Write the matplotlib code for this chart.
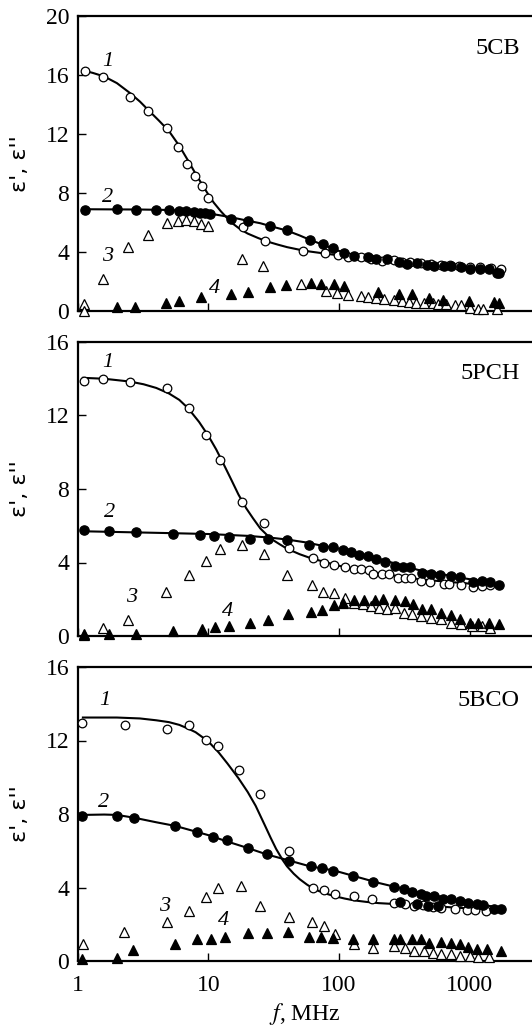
import matplotlib.pyplot as plt
import numpy as np

plt.rcParams['font.family'] = ['Liberation Serif', 'DejaVu Serif']
plt.rcParams['mathtext.fontset'] = 'stix'

# ---------- 5CB ----------
cb_f1 = [1.15, 1.58, 2.5, 3.45, 4.82, 5.91, 6.9, 7.87, 8.98, 10, 18.4, 27.2, 53.3, 78.7, 98,
         116, 146, 175, 214, 261, 300, 350, 420, 500, 600, 700, 820, 1000, 1200, 1450, 1740]
cb_e1 = [16.26, 15.87, 14.51, 13.54, 12.4, 11.11, 9.98, 9.18, 8.46, 7.66, 5.67, 4.72, 4.04, 3.92, 3.81,
         3.67, 3.63, 3.5, 3.4, 3.45, 3.3, 3.3, 3.25, 3.2, 3.15, 3.1, 3.05, 3.0, 2.95, 2.9, 2.88]
cb_f2 = [1.15, 1.99, 2.81, 3.96, 4.97, 5.94, 6.7, 7.73, 8.61, 9.42, 10.3, 14.8, 20.2, 29.7, 40.3,
         60.1, 75, 90.3, 109, 129, 166, 191, 231, 285, 330, 395, 473, 533, 638, 719, 861, 998,
         1196, 1390, 1614, 1680]
cb_e2 = [6.85, 6.92, 6.87, 6.87, 6.85, 6.76, 6.76, 6.69, 6.64, 6.64, 6.58, 6.24, 6.12, 5.78, 5.49,
         4.81, 4.54, 4.26, 3.92, 3.74, 3.67, 3.51, 3.51, 3.29, 3.22, 3.24, 3.13, 3.06, 3.02, 3.02, 2.95, 2.83,
         2.83, 2.83, 2.61, 2.61]
cb_f3 = [1.13, 1.13, 1.57, 2.45, 3.45, 4.82, 5.91, 6.7, 7.73, 8.87, 10, 18.2, 26, 50.9, 79.6, 97,
         116, 147, 166, 193, 221, 261, 302, 340, 384, 446, 518, 567, 658, 764, 861, 998, 1161, 1270, 1614]
cb_e3 = [0.5, 0.0, 2.2, 4.35, 5.15, 5.94, 6.08, 6.19, 6.08, 5.9, 5.74, 3.51, 3.02, 1.81, 1.36, 1.2,
         1.09, 1.02, 0.95, 0.91, 0.84, 0.75, 0.68, 0.61, 0.57, 0.57, 0.57, 0.5, 0.45, 0.39, 0.39, 0.23, 0.11, 0.11, 0.11]
cb_f4 = [2.01, 2.77, 4.74, 6.02, 8.87, 14.9, 20.2, 29.7, 39.6, 60.9, 73.3, 91.4, 109, 197, 288, 362,
         488, 620, 988, 1521, 1663]
cb_e4 = [0.27, 0.27, 0.57, 0.68, 0.95, 1.13, 1.32, 1.66, 1.77, 1.88, 1.86, 1.81, 1.7, 1.29, 1.13, 1.13,
         0.91, 0.73, 0.68, 0.61, 0.57]
cb_fit1_f = [1.1, 1.3, 1.6, 2.0, 2.5, 3.0, 3.5, 4.2, 5, 6, 7, 8, 9, 10, 11, 12.5, 15, 17.5, 20, 24, 28,
             34, 40, 50, 60, 80, 100, 150, 200, 300, 400, 600, 1000, 1700]
cb_fit1_e = [16.3, 16.15, 15.9, 15.45, 14.8, 14.2, 13.6, 12.9, 12.2, 11.2, 10.2, 9.3, 8.55, 7.9, 7.35, 6.75,
             6.0, 5.55, 5.25, 4.95, 4.72, 4.5, 4.33, 4.15, 4.03, 3.88, 3.77, 3.58, 3.45, 3.3, 3.2, 3.08, 2.95, 2.85]
cb_fit2_f = [1.1, 3, 5, 7, 10, 13, 16, 20, 25, 30, 40, 50, 60, 75, 100, 130, 170, 230, 300, 450, 600,
             1000, 1700]
cb_fit2_e = [6.9, 6.88, 6.85, 6.78, 6.62, 6.45, 6.3, 6.12, 5.95, 5.75, 5.45, 5.12, 4.82, 4.5, 4.07, 3.8,
             3.6, 3.43, 3.3, 3.14, 3.05, 2.9, 2.7]

# ---------- 5PCH ----------
pch_f1 = [1.13, 1.58, 2.5, 4.82, 7.07, 9.59, 12.3, 18, 26.8, 41.5, 62.7, 76.4, 91.4, 111, 129, 147,
          168, 182, 214, 242, 280, 317, 355, 420, 497, 638, 698, 861, 1062, 1233, 1432]
pch_e1 = [13.9, 14.0, 13.85, 13.49, 12.4, 10.95, 9.6, 7.27, 6.15, 4.78, 4.22, 3.96, 3.85, 3.73, 3.67, 3.64,
          3.58, 3.36, 3.36, 3.4, 3.18, 3.13, 3.13, 3.0, 2.95, 2.85, 2.82, 2.78, 2.69, 2.73, 2.76]
pch_f2 = [1.13, 1.73, 2.81, 5.34, 8.61, 11.1, 14.3, 20.9, 28.5, 40.1, 59.1, 75, 90.3, 107, 123, 143,
          166, 193, 224, 268, 308, 347, 433, 502, 590, 719, 836, 1062, 1233, 1432, 1683]
pch_e2 = [5.76, 5.69, 5.67, 5.55, 5.49, 5.42, 5.4, 5.27, 5.27, 5.24, 4.95, 4.85, 4.82, 4.67, 4.55, 4.42,
          4.36, 4.18, 4.05, 3.82, 3.73, 3.73, 3.45, 3.4, 3.33, 3.27, 3.22, 2.96, 3.0, 2.95, 2.78]
pch_f3 = [1.13, 1.58, 2.45, 4.74, 7.07, 9.59, 12.3, 18, 26.8, 40.1, 62, 75, 91.4, 110, 131, 152, 175,
          202, 231, 268, 312, 362, 420, 502, 601, 719, 861, 1030, 1233, 1432]
pch_e3 = [0.05, 0.45, 0.85, 2.4, 3.33, 4.09, 4.73, 4.95, 4.45, 3.33, 2.76, 2.4, 2.33, 2.09, 1.82, 1.73, 1.64,
          1.55, 1.45, 1.55, 1.24, 1.18, 1.09, 1.0, 0.91, 0.73, 0.64, 0.55, 0.55, 0.45]
pch_f4 = [1.13, 1.73, 2.81, 5.34, 8.98, 11.3, 14.3, 20.8, 28.5, 40.7, 60.9, 73.9, 91.4, 107, 131, 156,
          187, 218, 268, 321, 369, 433, 502, 601, 719, 836, 998, 1161, 1390, 1663]
pch_e4 = [0.1, 0.1, 0.1, 0.25, 0.4, 0.5, 0.55, 0.7, 0.85, 1.18, 1.33, 1.4, 1.67, 1.82, 1.96, 1.96,
          1.96, 2.0, 1.96, 1.91, 1.73, 1.49, 1.45, 1.27, 1.13, 0.91, 0.73, 0.73, 0.73, 0.64]
pch_fit1_f = [1.1, 1.6, 2.5, 3.2, 4, 5, 6, 7, 8.5, 10, 11.5, 13, 15, 17, 19.5, 22, 25, 30, 35, 40, 50,
              60, 80, 100, 150, 200, 300, 400, 600, 1000, 1700]
pch_fit1_e = [14.05, 14.0, 13.85, 13.7, 13.5, 13.2, 12.85, 12.4, 11.65, 10.9, 10.15, 9.4, 8.5, 7.7, 6.95,
              6.4, 5.85, 5.3, 5.0, 4.75, 4.45, 4.25, 4.0, 3.82, 3.58, 3.42, 3.23, 3.1, 2.98, 2.85, 2.75]
pch_fit2_f = [1.1, 5, 10, 20, 30, 40, 55, 70, 100, 150, 200, 300, 400, 600, 800, 1200, 1700]
pch_fit2_e = [5.7, 5.6, 5.55, 5.45, 5.35, 5.25, 5.1, 4.95, 4.75, 4.45, 4.2, 3.85, 3.6, 3.38, 3.2, 3.0, 2.8]

# ---------- 5BCO ----------
bco_f1 = [1.09, 2.31, 4.82, 7.07, 9.59, 11.8, 17.1, 24.8, 41.5, 62.7, 77.3, 93, 131, 180, 261, 321,
          373, 441, 518, 601, 764, 942, 1094, 1325]
bco_e1 = [12.96, 12.85, 12.64, 12.82, 12.04, 11.69, 10.42, 9.09, 5.96, 4.0, 3.85, 3.67, 3.55, 3.36, 3.18, 3.09,
          3.0, 3.05, 2.95, 2.91, 2.82, 2.76, 2.8, 2.73]
bco_f2 = [1.09, 1.99, 2.68, 5.6, 8.2, 10.9, 13.9, 20.2, 28, 41.5, 61.2, 74.1, 90.3, 127, 182, 261, 294,
          312, 362, 395, 420, 460, 479, 533, 566, 620, 719, 836, 970, 1127, 1270, 1521, 1714]
bco_e2 = [7.91, 7.87, 7.76, 7.33, 7.0, 6.76, 6.6, 6.13, 5.82, 5.45, 5.15, 5.04, 4.91, 4.6, 4.31, 4.05, 3.2,
          3.91, 3.76, 3.1, 3.67, 3.55, 3.0, 3.55, 3.0, 3.4, 3.36, 3.27, 3.18, 3.09, 3.05, 2.82, 2.82]
bco_f3 = [1.11, 2.28, 4.82, 7.07, 9.53, 11.8, 17.7, 24.8, 41.5, 62, 76.4, 93, 129, 182, 261, 321, 373,
          446, 518, 601, 719, 836, 998, 1161, 1390]
bco_e3 = [0.91, 1.58, 2.13, 2.73, 3.49, 3.95, 4.09, 3.0, 2.42, 2.13, 1.91, 1.45, 0.95, 0.69, 0.82, 0.73, 0.55,
          0.55, 0.42, 0.36, 0.36, 0.27, 0.27, 0.22, 0.22]
bco_f4 = [1.09, 1.99, 2.65, 5.6, 8.2, 10.4, 13.5, 20.1, 28, 40.7, 58.4, 73.3, 90.3, 127, 182, 261, 294,
          362, 420, 488, 601, 719, 836, 970, 1127, 1349, 1714]
bco_e4 = [0.09, 0.18, 0.58, 0.95, 1.18, 1.22, 1.31, 1.51, 1.51, 1.58, 1.31, 1.31, 1.27, 1.22, 1.22, 1.22, 1.22,
          1.18, 1.22, 1.0, 1.04, 1.0, 0.95, 0.76, 0.64, 0.64, 0.55]
bco_fit1_f = [1.1, 2, 3, 4, 5, 6, 7, 8, 10, 12, 14, 17, 20, 23, 27, 30, 33, 37, 40, 45, 50, 57, 65, 75,
              90, 110, 130, 160, 200, 300, 400, 600, 800, 1400]
bco_fit1_e = [13.25, 13.25, 13.2, 13.1, 13.0, 12.85, 12.65, 12.45, 11.95, 11.35, 10.75, 9.95, 9.2, 8.45,
              7.4, 6.7, 6.1, 5.5, 5.15, 4.75, 4.45, 4.15, 3.9, 3.72, 3.55, 3.4, 3.3, 3.22, 3.15, 3.08, 3.03,
              2.96, 2.9, 2.8]
bco_fit2_f = [1.1, 1.6, 2, 2.7, 4, 5.6, 7.5, 10, 14, 20, 28, 40, 60, 80, 100, 150, 200, 300, 400, 600,
              800, 1200, 1700]
bco_fit2_e = [7.95, 7.97, 7.95, 7.8, 7.55, 7.35, 7.1, 6.85, 6.5, 6.15, 5.8, 5.5, 5.15, 5.0, 4.85, 4.5,
              4.25, 3.95, 3.75, 3.5, 3.3, 3.08, 2.9]

panels = [
    ('5CB', 20, (cb_f1, cb_e1), (cb_f2, cb_e2), (cb_f3, cb_e3), (cb_f4, cb_e4),
     (cb_fit1_f, cb_fit1_e), (cb_fit2_f, cb_fit2_e),
     [(1.69, 16.9), (1.69, 7.7), (1.71, 3.7), (11.1, 1.5)], 17.8),
    ('5PCH', 16, (pch_f1, pch_e1), (pch_f2, pch_e2), (pch_f3, pch_e3), (pch_f4, pch_e4),
     (pch_fit1_f, pch_fit1_e), (pch_fit2_f, pch_fit2_e),
     [(1.69, 14.9), (1.77, 6.7), (2.57, 2.1), (14.0, 1.36)], 14.3),
    ('5BCO', 16, (bco_f1, bco_e1), (bco_f2, bco_e2), (bco_f3, bco_e3), (bco_f4, bco_e4),
     (bco_fit1_f, bco_fit1_e), (bco_fit2_f, bco_fit2_e),
     [(1.63, 14.2), (1.57, 8.6), (4.6, 2.95), (13.0, 2.2)], 14.2),
]

fig = plt.figure(figsize=(5.32, 10.30), dpi=100)
W, H = 532, 1030
tops = [16, 342, 667]
bottoms = [311, 636, 961]
left = 77.5
xmax = 10 ** ((W - left) / 130.8)

for i, (name, ytop, s1, s2, s3, s4, fit1, fit2, nums, name_y) in enumerate(panels):
    ax = fig.add_axes([left / W, 1 - bottoms[i] / H, (W - left) / W, (bottoms[i] - tops[i]) / H])
    ax.set_xscale('log')
    ax.set_xlim(1, xmax)
    ax.set_ylim(0, ytop)

    ax.plot(fit1[0], fit1[1], color='black', lw=1.5, zorder=2)
    ax.plot(fit2[0], fit2[1], color='black', lw=1.5, zorder=2)
    ax.plot(s3[0], s3[1], '^', ms=7.5, mfc='white', mec='black', mew=0.9, ls='none', zorder=3, clip_on=False)
    ax.plot(s4[0], s4[1], '^', ms=7.5, mfc='black', mec='black', mew=0.9, ls='none', zorder=3, clip_on=False)
    ax.plot(s1[0], s1[1], 'o', ms=6.2, mfc='white', mec='black', mew=0.9, ls='none', zorder=4, clip_on=False)
    ax.plot(s2[0], s2[1], 'o', ms=6.7, mfc='black', mec='black', mew=0.9, ls='none', zorder=4, clip_on=False)

    for k, (xn, yn) in enumerate(nums):
        ax.text(xn, yn, str(k + 1), fontsize=16, style='italic', ha='center', va='center')
    ax.text(10 ** 3.38, name_y, name, fontsize=17.5, ha='right', va='center')

    ax.spines['right'].set_visible(False)
    for sp in ['left', 'top', 'bottom']:
        ax.spines[sp].set_linewidth(1.6)

    ax.set_xticks([1, 10, 100, 1000])
    ax.minorticks_off()
    ax.set_yticks(np.arange(0, ytop + 1, 4))
    ax.tick_params(direction='in', length=6, width=1.0, labelsize=17, top=False, right=False)
    ax.tick_params(axis='y', pad=6)
    ax.tick_params(axis='x', pad=10)
    if i == 2:
        ax.set_xticklabels(['1', '10', '100', '1000'])
        ax.set_xlabel('$\\it{f}$, MHz', fontsize=17, labelpad=4)
    else:
        ax.set_xticklabels([])
    ax.set_ylabel("ε', ε''", fontsize=16, family=['DejaVu Sans'], labelpad=11)

fig.savefig('out.png', dpi=100)
